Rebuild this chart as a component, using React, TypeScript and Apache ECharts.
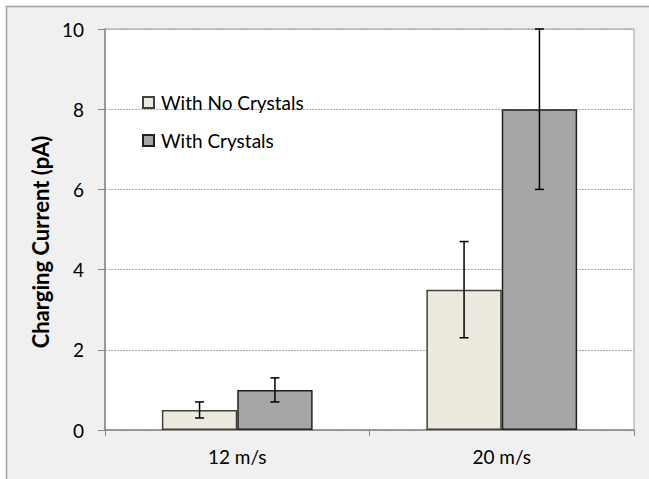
import React, { useEffect, useRef } from "react";
import * as echarts from "echarts";

const categories = ["12 m/s", "20 m/s"];
const seriesNames = ["With No Crystals", "With Crystals"];
const noCrystals = [0.5, 3.5];
const withCrystals = [1.0, 8.0];
const noCrystalsErr = [0.2, 1.2];
const withCrystalsErr = [0.3, 2.0];
const yTicks = [0, 2, 4, 6, 8, 10];

const FONT = "Lato";

function errorSeries(values: number[], errs: number[], seriesIndex: number) {
  const data = values.map((v, i) => [i, v - errs[i], v + errs[i]]);
  return {
    type: "custom",
    name: "err" + seriesIndex,
    z: 10,
    silent: true,
    renderItem: (params: any, api: any) => {
      const xi = api.value(0);
      const lo = api.coord([xi, api.value(1)]);
      const hi = api.coord([xi, api.value(2)]);
      const bandW = api.size([1, 0])[0];
      const barW = bandW * 0.285;
      const offset = seriesIndex === 0 ? -barW / 2 : barW / 2;
      const x = lo[0] + offset;
      const cap = 4.5;
      const style = { stroke: "#000", lineWidth: 1.5 };
      return {
        type: "group",
        children: [
          { type: "line", shape: { x1: x, y1: lo[1], x2: x, y2: hi[1] }, style },
          { type: "line", shape: { x1: x - cap, y1: lo[1], x2: x + cap, y2: lo[1] }, style },
          { type: "line", shape: { x1: x - cap, y1: hi[1], x2: x + cap, y2: hi[1] }, style },
        ],
      };
    },
    data,
  };
}

export default function App() {
  const ref = useRef<HTMLDivElement>(null);
  useEffect(() => {
    document.body.style.margin = "0";
    if (!ref.current) return;
    const chart = echarts.init(ref.current, null, { renderer: "svg" });
    chart.setOption({
      animation: false,
      backgroundColor: "#ffffff",
      textStyle: { fontFamily: FONT },
      graphic: [
        {
          type: "rect",
          z: -10,
          shape: { x: 6.5, y: 6.5, width: 660, height: 490 },
          style: { fill: "#f0f0f0", stroke: "#a0a0a0", lineWidth: 1.5 },
        },
        {
          type: "text",
          x: 40,
          y: 242,
          rotation: Math.PI / 2,
          style: {
            text: "Charging Current (pA)",
            fontFamily: FONT,
            fontWeight: "bold",
            fontSize: 22,
            fill: "#000",
            align: "center",
            verticalAlign: "middle",
          },
        },
      ],
      grid: {
        left: 105,
        right: 15,
        top: 29,
        bottom: 49,
        show: true,
        backgroundColor: "#ffffff",
        borderColor: "#a0a0a0",
        borderWidth: 1,
      },
      legend: {
        orient: "vertical",
        left: 142,
        top: 92,
        padding: 0,
        icon: "rect",
        itemWidth: 11,
        itemHeight: 11,
        itemGap: 17,
        data: seriesNames,
        textStyle: {
          fontFamily: FONT,
          fontSize: 19,
          lineHeight: 21,
          color: "#000",
          padding: [0, 0, 0, 2],
        },
      },
      xAxis: {
        type: "category",
        data: categories,
        axisLine: { lineStyle: { color: "#888888", width: 1.5 } },
        axisTick: { show: true, alignWithLabel: false, length: 6, lineStyle: { color: "#888888" } },
        axisLabel: { fontFamily: FONT, fontSize: 19, color: "#000", margin: 17 },
      },
      yAxis: {
        type: "value",
        min: 0,
        max: 10,
        interval: 2,
        axisLine: { show: true, lineStyle: { color: "#888888", width: 1.5 } },
        axisTick: { show: true, length: 7, lineStyle: { color: "#888888" } },
        axisLabel: {
          fontFamily: FONT,
          fontSize: 19,
          color: "#000",
          margin: 21,
          customValues: yTicks,
        },
        splitLine: { lineStyle: { color: "#a8a8a8", type: [2, 1], width: 1 } },
      },
      series: [
        {
          type: "bar",
          name: seriesNames[0],
          data: noCrystals,
          barGap: "0%",
          barCategoryGap: "43%",
          itemStyle: { color: "#ECEADF", borderColor: "#404040", borderWidth: 1.5 },
        },
        {
          type: "bar",
          name: seriesNames[1],
          data: withCrystals,
          barGap: "0%",
          barCategoryGap: "43%",
          itemStyle: { color: "#A6A6A6", borderColor: "#202020", borderWidth: 1.5 },
        },
        errorSeries(noCrystals, noCrystalsErr, 0),
        errorSeries(withCrystals, withCrystalsErr, 1),
      ],
    });
    return () => chart.dispose();
  }, []);
  return <div ref={ref} style={{ width: 649, height: 479 }} />;
}
